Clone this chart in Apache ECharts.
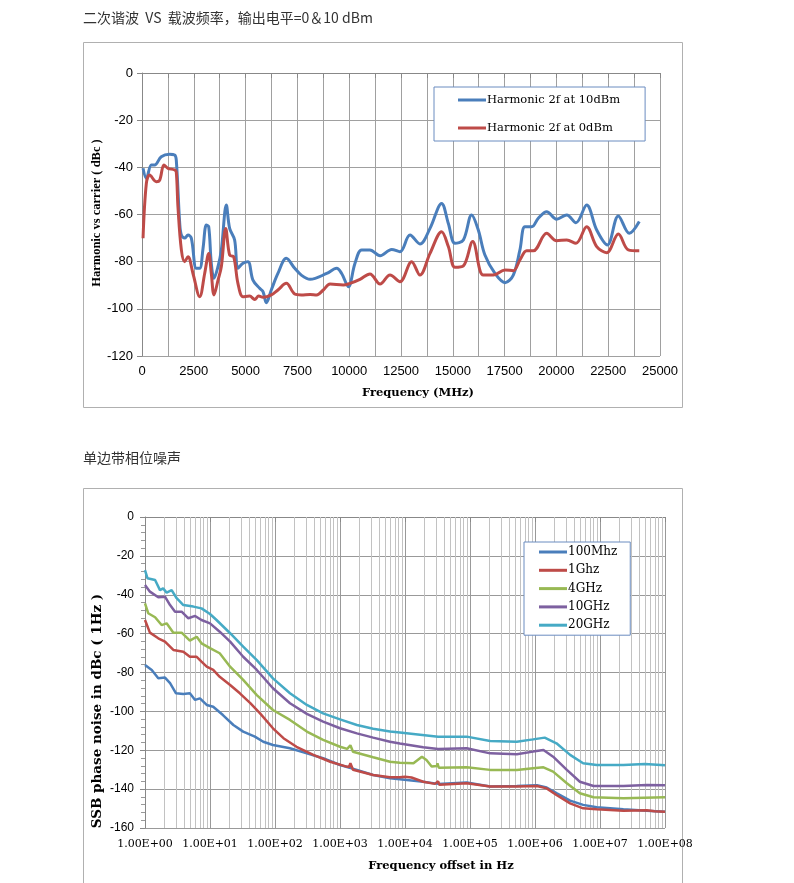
<!DOCTYPE html>
<html>
<head>
<meta charset="utf-8">
<script src="https://cdn.jsdelivr.net/npm/echarts@6/dist/echarts.min.js"></script>
<style>
html,body{margin:0;padding:0;background:#fff;}
#c{width:794px;height:883px;}
</style>
</head>
<body>
<div id="c"></div>
<script>
// ---------- Chart 1 data: 2nd harmonic vs carrier frequency ----------
const title1 = '二次谐波  VS  载波频率，输出电平=0＆10 dBm';
const title2 = '单边带相位噪声';
const harmName10 = 'Harmonic 2f at 10dBm';
const harmName0 = 'Harmonic 2f at 0dBm';
const harm10 = [[50,-40.4],[210,-44.7],[450,-39],[610,-39],[930,-35.5],[1335,-34.5],[1575,-34.8],[1655,-36.9],[1820,-63.8],[1900,-68.7],[2060,-70],[2220,-68.7],[2380,-70],[2620,-82.8],[2785,-82.8],[2945,-74.4],[3105,-64.5],[3220,-65.2],[3345,-80.7],[3475,-87],[3670,-82],[3830,-75],[4070,-56],[4230,-65.9],[4470,-70.8],[4630,-82.8],[4875,-80.7],[5115,-80],[5355,-87.8],[5680,-91.3],[5840,-92.7],[6000,-97.4],[6240,-92],[6560,-85],[6965,-78.6],[7370,-82.8],[7690,-85.7],[8110,-87.5],[8915,-85],[9395,-82.8],[9635,-85],[9960,-90.6],[10280,-80.7],[10600,-75],[11000,-75],[11490,-77.5],[12050,-74.8],[12450,-75.8],[12935,-68.7],[13415,-72.5],[13900,-65.9],[14460,-55.3],[14785,-63.8],[15105,-72.2],[15510,-70.8],[15910,-60.2],[16230,-66.6],[16550,-77.2],[17035,-85],[17520,-88.9],[17920,-85.7],[18240,-75],[18480,-65.2],[18810,-65.2],[19125,-61.6],[19530,-58.8],[20010,-62],[20500,-60.2],[20945,-63.5],[21460,-56],[21945,-66.6],[22460,-72.9],[22990,-60.6],[23520,-68],[24000,-63]];
const harm0 = [[50,-70.1],[210,-46.8],[370,-43.3],[690,-46.1],[855,-45.4],[1060,-39],[1255,-40.4],[1575,-41.1],[1655,-42],[1735,-56.7],[1900,-75],[2060,-80],[2220,-77.9],[2460,-85],[2785,-94.9],[3025,-85],[3220,-76.5],[3345,-85],[3475,-94.1],[3670,-87.8],[3830,-82.1],[4040,-65.9],[4230,-77.2],[4425,-77.9],[4630,-89.2],[4875,-94.9],[5195,-94.6],[5440,-96],[5630,-94.6],[5840,-95.1],[6240,-94.1],[6560,-92],[6965,-89.2],[7370,-93.7],[7690,-94.1],[8110,-93.9],[8430,-94.1],[8750,-92],[9075,-89.5],[9715,-89.9],[10040,-89.2],[10520,-87.5],[11000,-85.2],[11490,-89.5],[11970,-85.7],[12450,-88.5],[13015,-80],[13415,-85.7],[13900,-76.5],[14460,-67.3],[14785,-73.6],[15105,-82.4],[15510,-81.8],[15960,-71.5],[16470,-85.7],[16955,-85.7],[17520,-83.5],[17920,-83.8],[18240,-79.3],[18565,-75.4],[18885,-75.4],[19530,-68],[20010,-71.1],[20500,-70.8],[20945,-72.2],[21460,-65.2],[21945,-73.6],[22425,-76.2],[22990,-68.3],[23470,-75],[24000,-75.4]];

// ---------- Chart 2 data: SSB phase noise ----------
const noiseNames = ['100Mhz','1Ghz','4GHz','10GHz','20GHz'];
const noise100M = [[1,-76.1],[1.27,-78.7],[1.6,-83],[2.03,-82.6],[2.43,-85.5],[3,-90.7],[3.89,-91],[4.9,-90.7],[5.9,-94.1],[7,-93.3],[8.9,-96.7],[11.2,-97.6],[15.8,-101.9],[22.9,-107],[32.4,-110.4],[49,-113],[66,-115.6],[93,-117.3],[170,-119],[309,-121.6],[550,-124.1],[1000,-127.6],[1820,-130.1],[3236,-132.7],[5888,-134.4],[8318,-134.9],[19055,-136.2],[32360,-137.3],[89100,-136.6],[204000,-138.7],[525000,-138.4],[1.07e6,-138],[1.51e6,-139.2],[2.14e6,-142.1],[3.47e6,-145.9],[5.5e6,-148.1],[8.9e6,-149.3],[2.29e7,-150.4],[5.25e7,-151.1],[1e8,-151.6]];
const noise1G = [[1,-53],[1.19,-59.5],[1.6,-62.4],[2.03,-64.1],[2.73,-68.4],[3.89,-69.3],[4.9,-71.9],[6.24,-71.9],[7.4,-74.4],[8.9,-77],[11.2,-78.7],[14.1,-82.2],[20.4,-86.4],[28.8,-90.7],[41.7,-95.8],[58.9,-101],[93,-108.7],[135,-113.8],[214,-118.2],[389,-122.4],[708,-125.9],[1259,-128.4],[1380,-128.6],[1445,-126.7],[1585,-130],[3236,-132.7],[5888,-133.9],[8318,-133.9],[10000,-133.6],[12589,-134],[19055,-136.2],[28840,-137.3],[32360,-136],[33900,-137.8],[89100,-137],[204000,-138.7],[525000,-138.7],[1.07e6,-138.4],[1.51e6,-139.6],[2.14e6,-143],[3.47e6,-147.3],[5.5e6,-149.9],[8.9e6,-150.4],[2.29e7,-151.1],[5.25e7,-150.9],[6.9e7,-151.4],[1e8,-151.6]];
const noise4G = [[1,-44.4],[1.12,-49.5],[1.43,-51.6],[1.8,-55.6],[2.15,-54.7],[2.73,-59.5],[3.66,-59.5],[4.9,-63.6],[6.24,-61.6],[7.4,-65],[10,-67.5],[14.1,-70.1],[20.4,-77],[32.4,-83.8],[52.5,-91.6],[93,-99.3],[170,-104.4],[309,-110.4],[550,-114.7],[1000,-118.2],[1290,-119.3],[1445,-117.4],[1585,-120.8],[3236,-123.6],[5888,-125.9],[8318,-126.4],[13490,-126.7],[18200,-123.3],[21380,-125],[25700,-128.4],[30900,-128.1],[31600,-126.7],[33100,-129],[89100,-128.8],[204000,-130.1],[525000,-130.1],[933000,-129.3],[1.35e6,-128.8],[1.9e6,-131],[3.09e6,-137],[4.9e6,-142.1],[7.94e6,-144.2],[2.29e7,-144.7],[1e8,-144.2]];
const noise10G = [[1,-35],[1.19,-38.4],[1.6,-41.3],[2.03,-41],[2.43,-45.3],[2.9,-48.7],[3.66,-48.7],[4.65,-52.1],[5.9,-50.9],[7.4,-53],[10,-54.7],[14.1,-59],[20.4,-64.1],[32.4,-71.9],[52.5,-78.7],[93,-88.1],[170,-95.8],[309,-101.3],[550,-105.3],[1000,-108.7],[1820,-111.3],[3236,-113.5],[5888,-115.6],[8318,-116.5],[19055,-118.5],[32360,-119.3],[89100,-119],[204000,-121.6],[525000,-122.1],[933000,-120.7],[1.35e6,-119.9],[1.9e6,-123.3],[3.09e6,-130.1],[4.9e6,-136.2],[7.94e6,-138.4],[2.29e7,-138.4],[5.25e7,-137.9],[1e8,-138]];
const noise20G = [[1,-27.3],[1.09,-31.5],[1.43,-32.4],[1.7,-37.6],[1.9,-36.7],[2.15,-38.9],[2.57,-37.6],[3.07,-41.8],[3.89,-45.3],[5.55,-46.1],[7.4,-47],[10,-49.9],[12.6,-53],[20.4,-59.8],[32.4,-66.7],[52.5,-73.6],[93,-83],[170,-90.7],[309,-96.7],[550,-101],[1000,-104.1],[1820,-107],[3236,-108.9],[5888,-110.4],[8318,-110.9],[32360,-113],[33900,-112.4],[89100,-113],[204000,-115.2],[525000,-115.6],[933000,-114.4],[1.41e6,-113.5],[2.14e6,-116.4],[3.47e6,-122.4],[5.5e6,-126.7],[8.9e6,-127.6],[2.29e7,-127.6],[4.9e7,-127.1],[1e8,-127.7]];

// ---------- styling ----------
const C_BLUE='#4a7ebb', C_RED='#be4b48', C_GREEN='#98b954', C_PURPLE='#7d60a0', C_CYAN='#46aac5';
const SANS='"Liberation Sans", Arial, sans-serif';
const SERIF='"DejaVu Serif", serif';
const SERIF2='"Liberation Serif", serif';
const GRID_C='#a0a0a0';

// minor log gridlines (2..9 per decade) for the log axis
const minorLogLines = [];
for (let d = 0; d < 8; d++) for (let k = 2; k <= 9; k++) minorLogLines.push({xAxis: k * Math.pow(10, d)});

function expLabel(v){
  const e = Math.round(Math.log10(v));
  return '1.00E+' + (e < 10 ? '0' : '') + e;
}

const chart = echarts.init(document.getElementById('c'), null, {renderer:'canvas'});
const option = {
  animation:false,
  backgroundColor:'#fff',
  graphic:[
    {type:'rect', shape:{x:83.5,y:42.5,width:599,height:365}, style:{fill:'none',stroke:'#b0b0b0',lineWidth:1}, silent:true},
    {type:'rect', shape:{x:83.5,y:488.5,width:599,height:420}, style:{fill:'none',stroke:'#b0b0b0',lineWidth:1}, silent:true},
    {type:'text', x:83, y:18, style:{text:title1, font:'14px "Noto Sans CJK SC", sans-serif', fill:'#333', textVerticalAlign:'middle', verticalAlign:'middle'}},
    {type:'text', x:83, y:458, style:{text:title2, font:'14px "Noto Sans CJK SC", sans-serif', fill:'#333', textVerticalAlign:'middle', verticalAlign:'middle'}},
    {type:'text', x:97, y:213, rotation:Math.PI/2, style:{text:'Harmonic vs carrier ( dBc )', font:'bold 12.5px '+SERIF2, fill:'#000', textAlign:'center', align:'center', textVerticalAlign:'middle', verticalAlign:'middle'}},
    {type:'text', x:418, y:393, style:{text:'Frequency (MHz)', font:'bold 11.5px '+SERIF, fill:'#000', textAlign:'center', align:'center', textVerticalAlign:'middle', verticalAlign:'middle'}},
    {type:'text', x:97, y:711, rotation:Math.PI/2, style:{text:'SSB phase noise in dBc ( 1Hz )', font:'bold 13.5px '+SERIF, fill:'#000', textAlign:'center', align:'center', textVerticalAlign:'middle', verticalAlign:'middle'}},
    {type:'text', x:441, y:866, style:{text:'Frequency offset in Hz', font:'bold 11.5px '+SERIF, fill:'#000', textAlign:'center', align:'center', textVerticalAlign:'middle', verticalAlign:'middle'}}
  ],
  legend:[
    {
      data:[harmName10, harmName0], orient:'vertical', left:434, top:87,
      padding:[7,25,7,24], itemGap:16, itemWidth:28, itemHeight:3, icon:'rect',
      borderColor:'#6a8cc0', borderWidth:1, backgroundColor:'#fff',
      textStyle:{fontFamily:SERIF, fontSize:11.5, color:'#000', padding:[0,0,0,-4]},
      selectedMode:false
    },
    {
      data:noiseNames, orient:'vertical', left:524, top:542,
      padding:[3,13,3,15], itemGap:4.3, itemWidth:28, itemHeight:3, icon:'rect',
      borderColor:'#6a8cc0', borderWidth:1, backgroundColor:'#fff',
      textStyle:{fontFamily:SERIF, fontSize:12, color:'#000', lineHeight:14, padding:[0,0,0,-4]},
      selectedMode:false
    }
  ],
  grid:[
    {left:142, top:73, width:518, height:283, containLabel:false},
    {left:145, top:517, width:520, height:311, containLabel:false}
  ],
  xAxis:[
    {
      gridIndex:0, type:'value', min:0, max:25000, interval:1250,
      axisLine:{show:true, lineStyle:{color:'#888', width:1}},
      axisTick:{show:true, length:5, lineStyle:{color:'#888'}},
      axisLabel:{fontFamily:SANS, fontSize:13, color:'#000', margin:9,
        formatter:function(v){ return v % 2500 === 0 ? String(v) : ''; }},
      splitLine:{show:true, lineStyle:{color:GRID_C, width:1}}
    },
    {
      gridIndex:1, type:'log', logBase:10, min:1, max:1e8, splitNumber:8,
      axisLine:{show:true, lineStyle:{color:'#888', width:1}},
      axisTick:{show:true, length:5, lineStyle:{color:'#888'}},
      axisLabel:{fontFamily:SERIF, fontSize:11, color:'#000', margin:11, formatter:expLabel},
      splitLine:{show:true, lineStyle:{color:'#999', width:1}}
    }
  ],
  yAxis:[
    {
      gridIndex:0, type:'value', min:-120, max:0, interval:20,
      axisLine:{show:true, lineStyle:{color:'#888', width:1}},
      axisTick:{show:true, length:5, lineStyle:{color:'#888'}},
      axisLabel:{fontFamily:SANS, fontSize:13, color:'#000', margin:9},
      splitLine:{show:true, lineStyle:{color:GRID_C, width:1}}
    },
    {
      gridIndex:1, type:'value', min:-160, max:0, interval:20,
      axisLine:{show:true, lineStyle:{color:'#888', width:1}},
      axisTick:{show:true, length:5, lineStyle:{color:'#888'}},
      minorTick:{show:true, splitNumber:5, length:4, lineStyle:{color:'#999'}},
      axisLabel:{fontFamily:SANS, fontSize:12, color:'#000', margin:11},
      splitLine:{show:true, lineStyle:{color:'#999', width:1}}
    }
  ],
  series:[
    {name:'minorGrid', type:'line', xAxisIndex:1, yAxisIndex:1, data:[], silent:true,
      markLine:{silent:true, symbol:['none','none'], z:1, label:{show:false}, animation:false,
        lineStyle:{type:'solid', color:'#c2c2c2', width:1}, emphasis:{disabled:true}, data:minorLogLines}},
    {name:harmName10, type:'line', xAxisIndex:0, yAxisIndex:0, data:harm10, smooth:0.35, showSymbol:false, color:C_BLUE, lineStyle:{width:3, color:C_BLUE}, z:3},
    {name:harmName0, type:'line', xAxisIndex:0, yAxisIndex:0, data:harm0, smooth:0.35, showSymbol:false, color:C_RED, lineStyle:{width:3, color:C_RED}, z:4},
    {name:noiseNames[0], type:'line', xAxisIndex:1, yAxisIndex:1, data:noise100M, showSymbol:false, color:C_BLUE, lineStyle:{width:2.5, color:C_BLUE}, z:3},
    {name:noiseNames[1], type:'line', xAxisIndex:1, yAxisIndex:1, data:noise1G, showSymbol:false, color:C_RED, lineStyle:{width:2.5, color:C_RED}, z:4},
    {name:noiseNames[2], type:'line', xAxisIndex:1, yAxisIndex:1, data:noise4G, showSymbol:false, color:C_GREEN, lineStyle:{width:2.5, color:C_GREEN}, z:5},
    {name:noiseNames[3], type:'line', xAxisIndex:1, yAxisIndex:1, data:noise10G, showSymbol:false, color:C_PURPLE, lineStyle:{width:2.5, color:C_PURPLE}, z:6},
    {name:noiseNames[4], type:'line', xAxisIndex:1, yAxisIndex:1, data:noise20G, showSymbol:false, color:C_CYAN, lineStyle:{width:2.5, color:C_CYAN}, z:7}
  ]
};
chart.setOption(option);
</script>
</body>
</html>
